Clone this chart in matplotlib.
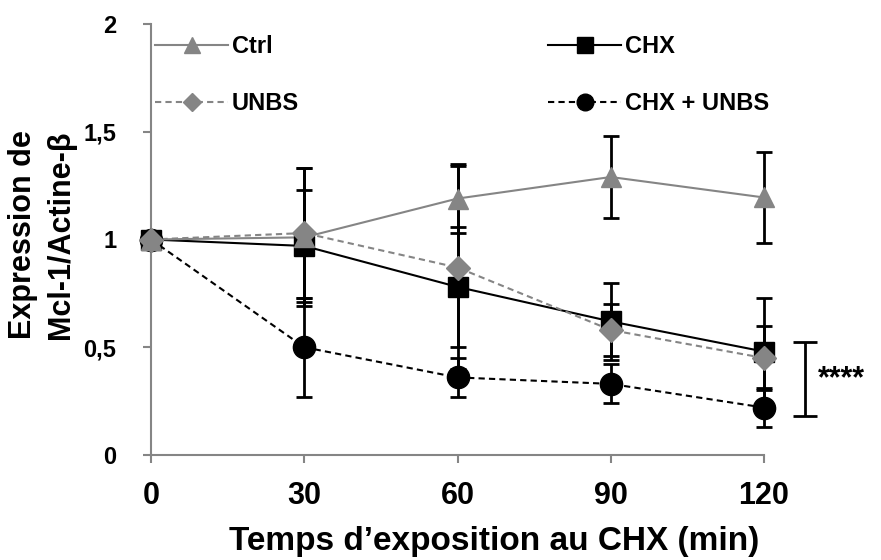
import matplotlib
matplotlib.use("Agg")
import matplotlib.pyplot as plt
from matplotlib.lines import Line2D

plt.rcParams['font.family'] = ['Liberation Sans', 'DejaVu Sans']
plt.rcParams['font.weight'] = 'bold'

times = [0, 30, 60, 90, 120]

ctrl = [1.0, 1.01, 1.19, 1.29, 1.195]
ctrl_err = [0.0, 0.32, 0.16, 0.19, 0.21]
chx = [1.0, 0.97, 0.78, 0.62, 0.48]
chx_err = [0.0, 0.26, 0.28, 0.18, 0.25]
unbs = [1.0, 1.03, 0.87, 0.58, 0.45]
unbs_err = [0.0, 0.30, 0.47, 0.12, 0.15]
chx_unbs = [1.0, 0.50, 0.36, 0.33, 0.22]
chx_unbs_err = [0.0, 0.23, 0.09, 0.09, 0.09]

sig_range = (0.18, 0.525)
sig_label = "****"

W, H = 881, 560
fig = plt.figure(figsize=(W / 100, H / 100), dpi=100)
ax = fig.add_axes([151 / W, 1 - 455 / H, 613 / W, 431 / H])

gray = "#858585"
# name, values, errors, colour, dashed?, marker, marker size
series = [
    ("CHX + UNBS", chx_unbs, chx_unbs_err, "black", True, "o", 16),
    ("CHX", chx, chx_err, "black", False, "s", 15),
    ("UNBS", unbs, unbs_err, gray, True, "D", 12),
    ("Ctrl", ctrl, ctrl_err, gray, False, "^", 15),
]

handles = {}
for label, vals, errs, col, dashed, mk, ms in series:
    ax.errorbar(times, vals, yerr=errs, fmt="none", ecolor="black",
                elinewidth=2, capsize=5.8, capthick=2, zorder=3, clip_on=False)
    ax.plot(times, vals, color=col, linewidth=1.5,
            linestyle=(0, (3, 2)) if dashed else "-", zorder=2, clip_on=False)
    ax.plot(times, vals, linestyle="none", marker=mk, markersize=ms,
            color=col, markeredgecolor=col, zorder=4, clip_on=False)
    handles[label] = Line2D([], [], color=col, linewidth=1.5,
                            linestyle=(0, (3, 2)) if dashed else "-",
                            marker=mk, markersize=ms * 0.75,
                            markeredgecolor=col)

# significance bracket
ax.errorbar([128], [sum(sig_range) / 2], yerr=[(sig_range[1] - sig_range[0]) / 2],
            ecolor="black", elinewidth=2, capsize=8.3, capthick=2, fmt="none",
            clip_on=False)
ax.text(130.6, sum(sig_range) / 2, sig_label, fontsize=22, va="center",
        ha="left", fontweight="bold")

ax.set_xlim(0, 120)
ax.set_ylim(0, 2)
ax.set_xticks(times)
ax.set_yticks([0, 0.5, 1, 1.5, 2])
ax.set_yticklabels(["0", "0,5", "1", "1,5", "2"])
ax.tick_params(axis="both", color=gray, width=1.5, length=6)
ax.tick_params(axis="x", labelsize=22, pad=13)
ax.tick_params(axis="y", labelsize=17, pad=19)

for s in ["top", "right"]:
    ax.spines[s].set_visible(False)
for s in ["left", "bottom"]:
    ax.spines[s].set_color(gray)
    ax.spines[s].set_linewidth(1.5)

fig.text(494 / W, 1 - 550 / H, "Temps d\u2019exposition au CHX (min)",
         fontsize=24, fontweight="bold", ha="center", va="baseline")
fig.text(23 / W, 1 - 235 / H, "Expression de", rotation=90, fontsize=22,
         fontweight="bold", va="center", ha="center")
fig.text(61 / W, 1 - 235 / H, "Mcl-1/Actine-\u03b2", rotation=90, fontsize=22,
         fontweight="bold", va="center", ha="center")

legend_cols = [(["Ctrl", "UNBS"], 155), (["CHX", "CHX + UNBS"], 548)]
for names, x0 in legend_cols:
    leg = fig.legend([handles[n] for n in names], names, loc="upper left",
                     bbox_to_anchor=(x0 / W, 1 - 35 / H),
                     bbox_transform=fig.transFigure, frameon=False,
                     fontsize=17, handlelength=3.1, handletextpad=0.15,
                     labelspacing=1.43, borderpad=0, borderaxespad=0)
    for t in leg.get_texts():
        t.set_fontweight("bold")

fig.savefig("out.png", dpi=100)
